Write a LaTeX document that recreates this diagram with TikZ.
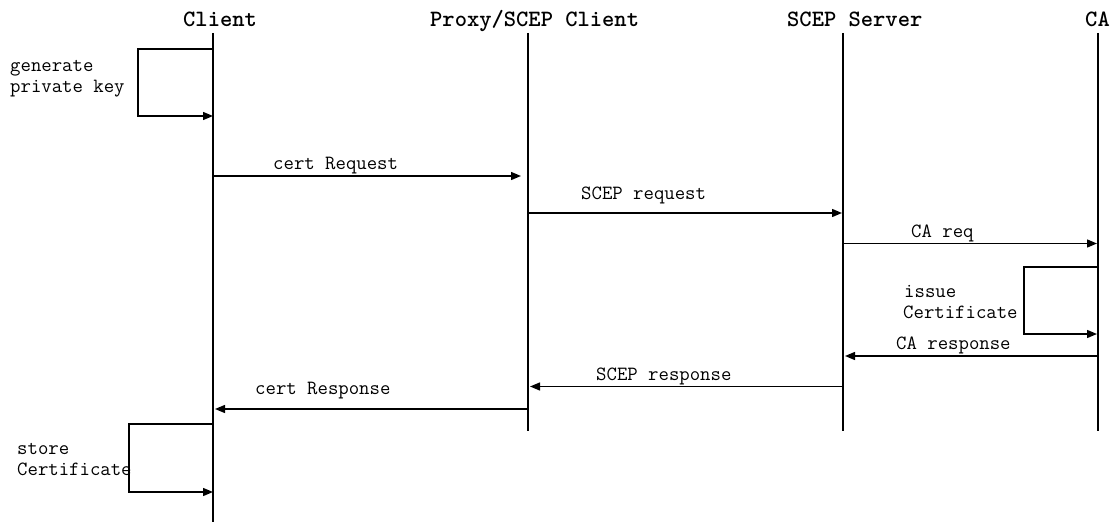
\documentclass[tikz,border=0pt]{standalone}
\usepackage{fontspec}
\usetikzlibrary{arrows.meta}

\tikzset{
  actor/.style={anchor=base west, inner sep=0pt, font=\ttfamily\bfseries\fontsize{23.4}{27}\selectfont},
  msgtext/.style={anchor=base west, inner sep=0pt, font=\ttfamily\fontsize{20.2}{21}\selectfont},
  lifeline/.style={line width=2.8pt},
  msg/.style={line width=1.4pt, -{Triangle[length=10pt,width=8pt]}},
}

\begin{document}
\begin{tikzpicture}[x=1pt,y=-1pt]
  \useasboundingbox (0,0) rectangle (1113,524);

  % participants
  \node[actor] (client) at (183,27) {Client};
  \node[actor] (proxy)  at (430,27) {Proxy/SCEP Client};
  \node[actor] (server) at (787,27) {SCEP Server};
  \node[actor] (ca)     at (1085,27) {CA};

  % lifelines
  \coordinate (clientTop) at (213,33);  \coordinate (clientEnd) at (213,522);
  \coordinate (proxyTop)  at (528,33);  \coordinate (proxyEnd)  at (528,431);
  \coordinate (serverTop) at (843,33);  \coordinate (serverEnd) at (843,431);
  \coordinate (caTop)     at (1098,33); \coordinate (caEnd)     at (1098,431);
  \draw[lifeline] (clientTop) -- (clientEnd);
  \draw[lifeline] (proxyTop)  -- (proxyEnd);
  \draw[lifeline] (serverTop) -- (serverEnd);
  \draw[lifeline] (caTop)     -- (caEnd);

  % generate private key (self call on Client)
  \coordinate (genA) at (213,49);
  \coordinate (genL) at (138,116);
  \coordinate (genB) at (213,116);
  \draw[msg] (genA) -| (genL) -- (genB);
  \node[msgtext] (gen1) at (10,72) {generate};
  \node[msgtext] (gen2) at (10,93) {private key};

  % cert Request
  \coordinate (reqA) at (213,176);
  \coordinate (reqB) at (521,176);
  \draw[msg] (reqA) -- (reqB);
  \node[msgtext] (reqT) at (273,169) {cert Request};

  % SCEP request
  \coordinate (scepA) at (528,213);
  \coordinate (scepB) at (842,213);
  \draw[msg] (scepA) -- (scepB);
  \node[msgtext] (scepT) at (581,199) {SCEP request};

  % CA req
  \coordinate (careqA) at (843,243.5);
  \coordinate (careqB) at (1097,243.5);
  \draw[msg] (careqA) -- (careqB);
  \node[msgtext] (careqT) at (911,237) {CA req};

  % issue Certificate (self call on CA)
  \coordinate (issA) at (1098,267);
  \coordinate (issL) at (1024,334);
  \coordinate (issB) at (1097,334);
  \draw[msg] (issA) -| (issL) -- (issB);
  \node[msgtext] (iss1) at (904,297) {issue};
  \node[msgtext] (iss2) at (903,318) {Certificate};

  % CA response
  \coordinate (carespA) at (1098,356);
  \coordinate (carespB) at (845,356);
  \draw[msg] (carespA) -- (carespB);
  \node[msgtext] (carespT) at (896,349) {CA response};

  % SCEP response
  \coordinate (sresA) at (843,386.5);
  \coordinate (sresB) at (530,386.5);
  \draw[msg] (sresA) -- (sresB);
  \node[msgtext] (sresT) at (596,380) {SCEP response};

  % cert Response
  \coordinate (cresA) at (528,409);
  \coordinate (cresB) at (215,409);
  \draw[msg] (cresA) -- (cresB);
  \node[msgtext] (cresT) at (255,394) {cert Response};

  % store Certificate (self call on Client)
  \coordinate (stoA) at (213,424);
  \coordinate (stoL) at (129,492);
  \coordinate (stoB) at (213,492);
  \draw[msg] (stoA) -| (stoL) -- (stoB);
  \node[msgtext] (sto1) at (17,454) {store};
  \node[msgtext] (sto2) at (17,475) {Certificate};
\end{tikzpicture}
\end{document}
